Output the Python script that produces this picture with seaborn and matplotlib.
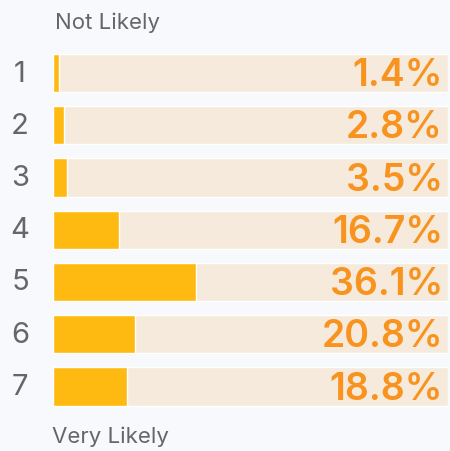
import matplotlib
matplotlib.use("Agg")
import matplotlib.pyplot as plt
import seaborn as sns
import pandas as pd
import matplotlib.transforms as mtransforms

categories = ["1", "2", "3", "4", "5", "6", "7"]
values = [1.4, 2.8, 3.5, 16.7, 36.1, 20.8, 18.8]
value_labels = ["1.4%", "2.8%", "3.5%", "16.7%", "36.1%", "20.8%", "18.8%"]
top_label = "Not Likely"
bottom_label = "Very Likely"

sns.set_theme(style="white")
plt.rcParams["font.family"] = ["Inter", "DejaVu Sans"]

bg = "#F7F9FC"
track = "#F5EADB"
bar = "#FFBA12"
txt_orange = "#F7931E"
grey = "#666666"

df = pd.DataFrame({"cat": categories, "val": values, "full": [100] * len(values)})

fig = plt.figure(figsize=(4.5, 4.52), dpi=100, facecolor=bg)
ax = fig.add_axes([53 / 450, 1 - 413.6 / 452, (448 - 53) / 450, (413.6 - 47.9) / 452])
ax.set_facecolor(bg)

sns.barplot(data=df, y="cat", x="full", color=track, width=0.73, ax=ax, orient="h", saturation=1)
sns.barplot(data=df, y="cat", x="val", color=bar, width=0.73, ax=ax, orient="h", saturation=1)

ax.set_xlim(0, 100)
ax.set_ylim(6.5, -0.5)
ax.set_xticks([])
ax.set_yticks([])
ax.set_xlabel("")
ax.set_ylabel("")
for s in ax.spines.values():
    s.set_visible(False)

trans_left = mtransforms.blended_transform_factory(fig.transFigure, ax.transData)
for i, (c, lab) in enumerate(zip(categories, value_labels)):
    ax.text(20 / 450, i, c, transform=trans_left, ha="center", va="center",
            fontsize=21, color=grey)
    ax.text(98.7, i + 0.04, lab, ha="right", va="center", fontsize=27,
            color=txt_orange, fontweight="semibold")

fig.text(55 / 450, 1 - 23 / 452, top_label, ha="left", va="center", fontsize=16, color=grey)
fig.text(52 / 450, 1 - 437 / 452, bottom_label, ha="left", va="center", fontsize=16, color=grey)

fig.savefig("out.png", dpi=100, facecolor=bg)
